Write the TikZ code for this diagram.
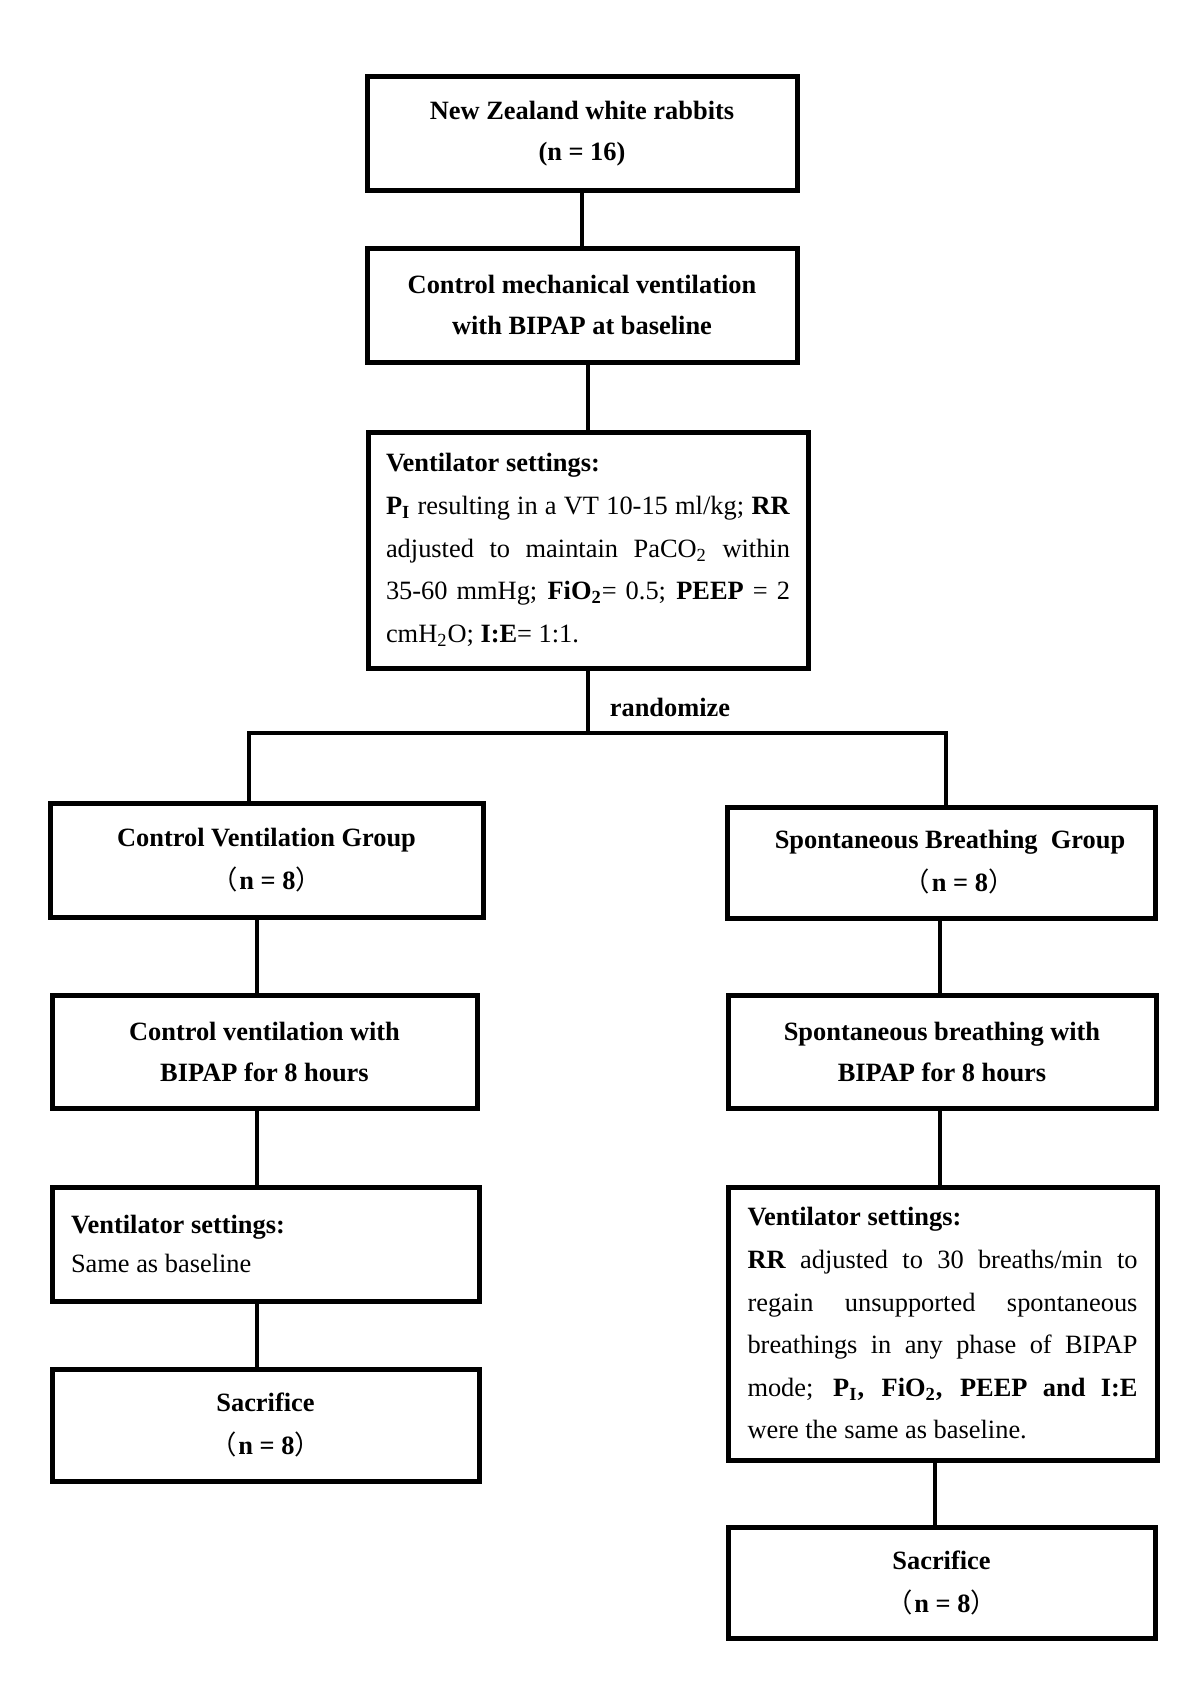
\documentclass[tikz,border=0pt]{standalone}
\usepackage{fontspec}
\setmainfont{Liberation Serif}
\newfontfamily\cjk{Noto Sans CJK SC}
\setlength{\parindent}{0pt}
\newcommand{\lpar}{{\cjk\mdseries （}\hspace{1pt}}
\newcommand{\rpar}{{\cjk\mdseries ）}}
\begin{document}
\begin{tikzpicture}[x=0.5pt,y=-0.5pt,
  box/.style={draw, line width=2.5pt, inner sep=0pt, outer sep=0pt, align=center,
    font=\fontsize{13.2}{20.5}\selectfont\bfseries},
  txtbox/.style={draw, line width=2.5pt, inner ysep=0pt, outer sep=0pt,
    font=\fontsize{13.2}{21.3}\selectfont},
  link/.style={line width=2.2pt},
  lbl/.style={font=\fontsize{13.2}{16}\selectfont\bfseries, inner sep=0pt}]
\useasboundingbox (0,0) rectangle (1200,1691);

% top column
\node[box, minimum width=215pt, minimum height=56.5pt] (rab) at (582,133.5)
  {New Zealand white rabbits\\(n = 16)};
\node[box, minimum width=215pt, minimum height=57pt] (cmv) at (582,305)
  {Control mechanical ventilation\\with BIPAP at baseline};
\node[txtbox, align=justify, text width=202pt, inner xsep=9pt, minimum height=118pt] (vs) at (588,550)
  {\textbf{Ventilator settings:}\newline
   \textbf{P\textsubscript{I}} resulting in a VT 10-15 ml/kg; \textbf{RR}\linebreak
   adjusted to maintain PaCO\textsubscript{2} within\linebreak
   35-60 mmHg; \textbf{FiO\textsubscript{2}}= 0.5; \textbf{PEEP} = 2\linebreak
   cmH\textsubscript{2}O; \textbf{I:E}= 1:1.};

\node[lbl] (rand) at (670,707) {randomize};

% left column
\node[box, minimum width=216.5pt, minimum height=57pt] (cvg) at (266.5,860)
  {Control Ventilation Group\\[1pt]\lpar n = 8\rpar};
\node[box, minimum width=212.5pt, minimum height=56.5pt] (cvl) at (264.5,1051.5)
  {Control ventilation with\\BIPAP for 8 hours};
\node[txtbox, align=flush left, text width=194.5pt, inner xsep=9.5pt, minimum height=57pt,
  font=\fontsize{13.2}{19.5}\selectfont] (lvs) at (265.5,1244)
  {\textbf{Ventilator settings:}\\Same as baseline};
\node[box, minimum width=213.5pt, minimum height=56pt] (lsac) at (265.5,1425)
  {Sacrifice\\[1pt]\lpar n = 8\rpar};

% right column
\node[box, minimum width=214pt, minimum height=55.5pt] (sbg) at (941,862.5)
  {\hspace*{9pt}Spontaneous Breathing\ \ Group\\[1pt]\hspace*{18pt}\lpar n = 8\rpar};
\node[box, minimum width=214pt, minimum height=56.5pt] (sbl) at (942,1051.5)
  {Spontaneous breathing with\\BIPAP for 8 hours};
\node[txtbox, align=justify, text width=195pt, inner xsep=9.75pt, minimum height=136.5pt] (rvs) at (942.5,1323.5)
  {\textbf{Ventilator settings:}\newline
   \textbf{RR} adjusted to 30 breaths/min to\linebreak
   regain unsupported spontaneous\linebreak
   breathings in any phase of BIPAP\linebreak
   mode; \textbf{P\textsubscript{I}, FiO\textsubscript{2}, PEEP and I:E}\linebreak
   were the same as baseline.};
\node[box, minimum width=213.5pt, minimum height=55.5pt] (rsac) at (941.5,1582.5)
  {Sacrifice\\[1pt]\lpar n = 8\rpar};

% connector coordinates
\coordinate (split) at (588,733);
\coordinate (lsplit) at (249,733);
\coordinate (rsplit) at (946,733);
\coordinate (lx) at (257,0);
\coordinate (rx) at (940,0);
\coordinate (rx2) at (935,0);

% connectors
\draw[link] (rab.south) -- (cmv.north);
\draw[link] (vs.north |- cmv.south) -- (vs.north);
\draw[link] (vs.south) -- (split);
\draw[link] (lsplit |- cvg.north) -- (lsplit) -- (rsplit) -- (rsplit |- sbg.north);
\draw[link] (lx |- cvg.south) -- (lx |- cvl.north);
\draw[link] (lx |- cvl.south) -- (lx |- lvs.north);
\draw[link] (lx |- lvs.south) -- (lx |- lsac.north);
\draw[link] (rx |- sbg.south) -- (rx |- sbl.north);
\draw[link] (rx |- sbl.south) -- (rx |- rvs.north);
\draw[link] (rx2 |- rvs.south) -- (rx2 |- rsac.north);
\end{tikzpicture}
\end{document}
